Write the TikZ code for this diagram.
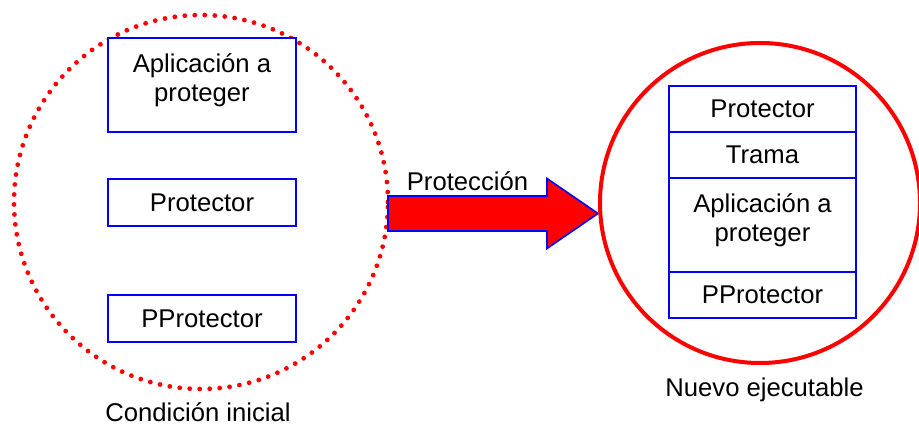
\documentclass[tikz,border=0pt]{standalone}
\usepackage{fontspec}
\setmainfont{Liberation Sans}
\usepackage{tikz}
\usetikzlibrary{calc,positioning,shapes}
\tikzset{%
	caja/.style     = {draw=blue, fill=white, line width=1.5pt, rectangle, minimum width=141pt, align=center}, % Bloque
	fila/.style     = {caja, minimum width=140.25pt, minimum height=34.5pt, outer sep=0pt}, % Segmento del ejecutable
	doble/.style    = {minimum height=70.5pt, text depth=11.5pt}, % Bloque de dos lineas
	conjunto/.style = {draw=red, circle, line width=3pt, inner sep=0pt}, % Conjunto
	punteado/.style = {conjunto, line width=3.6pt, line cap=round, dash pattern=on 0pt off 7.5pt}, % Conjunto punteado
	flecha/.style   = {draw=blue, fill=red, line width=1.2pt, line join=miter}, % Flecha gruesa
	etiqueta/.style = {rectangle, align=center}, % Texto suelto
}

\begin{document}
\begin{tikzpicture}[x=0.75pt,y=-0.75pt,font=\fontsize{19.25}{21.75}\selectfont]
	\useasboundingbox (0,0) rectangle (919,427);

	% condicion inicial
	\node [punteado,minimum size=280.5pt] (ini) at (201,202) {};
	\node [caja,doble] (app) at (202,85) {Aplicación a\\proteger};
	\node [caja,minimum height=35.25pt] (prot) at (202,202.5) {Protector};
	\node [caja,minimum height=35.25pt] (pprot) at (202,318.5) {PProtector};
	\node [etiqueta] (lbini) at (198,412) {Condición inicial};

	% flecha de proteccion
	\coordinate (cola) at (388,213.5);
	\coordinate (punta) at (598,213.5);
	\draw[flecha] ($(cola)+(0,-17.5)$) -- node[above] (lbflecha) {Protección} ($(punta)+(-51,-17.5)$)
		-- ($(punta)+(-51,-35)$) -- (punta) -- ($(punta)+(-51,35)$)
		-- ($(punta)+(-51,17.5)$) -- ($(cola)+(0,17.5)$) -- cycle;

	% nuevo ejecutable
	\node [conjunto,minimum size=240pt] (fin) at (760,203) {};
	\node [fila] (fprot) at (762.5,109) {Protector};
	\node [fila] (ftrama) [below=0pt of fprot] {Trama};
	\node [fila,doble] (fapp) [below=0pt of ftrama] {Aplicación a\\proteger};
	\node [fila] (fpprot) [below=0pt of fapp] {PProtector};
	\node [etiqueta] (lbfin) at (764.5,390) {Nuevo ejecutable};
\end{tikzpicture}
\end{document}
